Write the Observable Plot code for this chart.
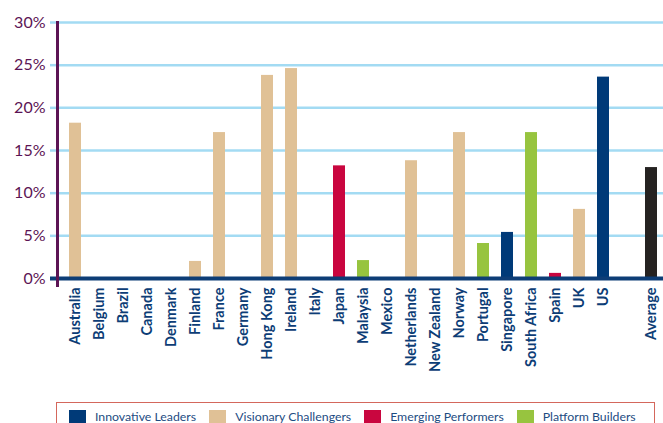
<!DOCTYPE html>
<html>
<head>
<meta charset="utf-8">
<script src="https://cdn.jsdelivr.net/npm/d3@7"></script>
<script src="https://cdn.jsdelivr.net/npm/@observablehq/plot@0.6"></script>
<style>
  html, body { margin: 0; padding: 0; background: #fff; }
  #wrap { position: relative; width: 663px; height: 423px; overflow: hidden; }
  #legend {
    position: absolute; left: 56px; top: 402px; width: 599px; height: 40px;
    border: 1px solid #d4675c; box-sizing: border-box;
    display: flex; align-items: flex-start; padding: 7px 0 0 12px;
    font-family: Lato, "Open Sans", sans-serif; font-size: 12.3px; color: #1d4c82;
    white-space: nowrap;
  }
  #legend .item { display: flex; align-items: flex-start; margin-right: 13px; flex-shrink: 0; }
  #legend .sw { width: 17px; height: 17px; margin-right: 9px; flex-shrink: 0; }
  #legend .lb { line-height: 12px; padding-top: 1px; }
</style>
</head>
<body>
<div id="wrap"><div id="chart"></div><div id="legend"></div></div>
<script>
const countries = ["Australia","Belgium","Brazil","Canada","Denmark","Finland","France","Germany","Hong Kong","Ireland","Italy","Japan","Malaysia","Mexico","Netherlands","New Zealand","Norway","Portugal","Singapore","South Africa","Spain","UK","US"," ","Average"];
const values = [18.2,null,null,null,null,2.0,17.1,null,23.8,24.6,null,13.2,2.1,null,13.8,null,17.1,4.1,5.4,17.1,0.6,8.1,23.6,null,13.0];
const groups = ["Visionary Challengers",null,null,null,null,"Visionary Challengers","Visionary Challengers",null,"Visionary Challengers","Visionary Challengers",null,"Emerging Performers","Platform Builders",null,"Visionary Challengers",null,"Visionary Challengers","Platform Builders","Innovative Leaders","Platform Builders","Emerging Performers","Visionary Challengers","Innovative Leaders",null,"Average"];
const legendGroups = ["Innovative Leaders","Visionary Challengers","Emerging Performers","Platform Builders"];
const groupColors = ["#003a78","#e0c196","#c9063f","#97c43f","#252221"];
const yTicks = [0,5,10,15,20,25,30];

const data = countries.map((c, i) => ({country: c, value: values[i], group: groups[i]})).filter(d => d.value != null);

const purple = "#5c1454";
const navy = "#0d3d76";
const grid = "#a3dbf3";

const chart = Plot.plot({
  width: 663,
  height: 402,
  marginLeft: 57,
  marginRight: 0,
  marginTop: 22,
  marginBottom: 124,
  style: {fontFamily: "Lato, 'Open Sans', sans-serif", background: "#fff"},
  x: {domain: countries, paddingInner: 0.5, paddingOuter: 0.375, align: 0.667},
  y: {domain: [0, 30]},
  color: {domain: [...legendGroups, "Average"], range: groupColors},
  marks: [
    Plot.gridY(yTicks.slice(1), {stroke: grid, strokeOpacity: 1, strokeWidth: 2.5}),
    Plot.axisY(yTicks.slice(1), {tickSize: 7, stroke: grid, strokeWidth: 2.5, fill: purple, tickPadding: 5, fontSize: 16, tickFormat: d => d + "%", label: null}),
    Plot.axisY([0], {tickSize: 7, stroke: navy, strokeWidth: 4, fill: purple, tickPadding: 5, fontSize: 16, tickFormat: d => d + "%", label: null}),
    Plot.barY(data, {x: "country", y: "value", fill: "group"}),
    Plot.ruleY([0], {stroke: navy, strokeWidth: 4}),
    Plot.frame({anchor: "left", stroke: purple, strokeWidth: 3, insetBottom: -7}),
    Plot.axisX({tickSize: 0, tickPadding: 9, rotate: -90, textAnchor: "end", lineAnchor: "middle", fill: navy, fontSize: 14.5, fontWeight: "bold", label: null})
  ]
});
document.getElementById("chart").appendChild(chart);

const legend = document.getElementById("legend");
legendGroups.forEach((g, i) => {
  const item = document.createElement("div");
  item.className = "item";
  const sw = document.createElement("div");
  sw.className = "sw";
  sw.style.background = groupColors[i];
  const lb = document.createElement("div");
  lb.className = "lb";
  lb.textContent = g;
  item.appendChild(sw); item.appendChild(lb);
  legend.appendChild(item);
});
</script>
</body>
</html>
